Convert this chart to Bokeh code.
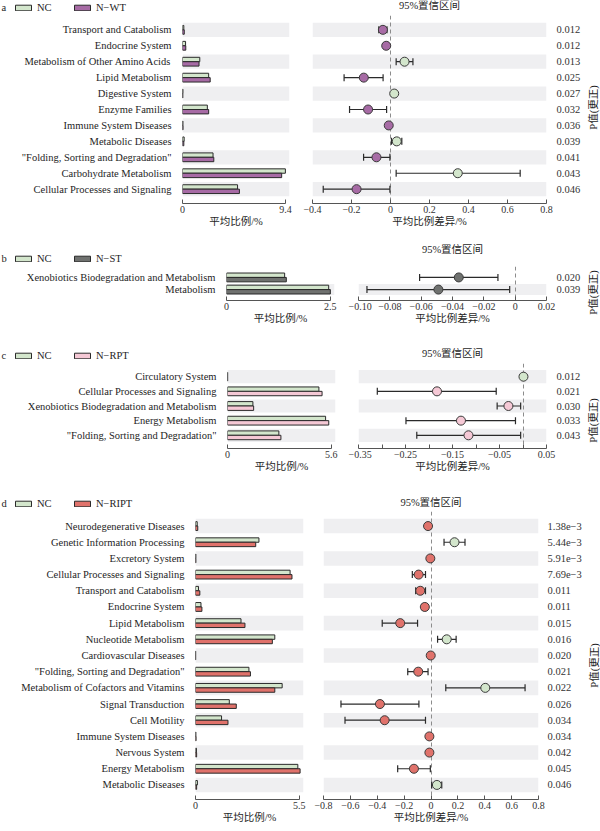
import numpy as np
from bokeh.plotting import figure
from bokeh.models import (ColumnDataSource, Range1d, FixedTicker, Legend, LegendItem, Label)
from bokeh.transform import dodge
from bokeh.layouts import row, column
from bokeh.embed import file_html
from bokeh.resources import INLINE
from bokeh.core.properties import value

# ---------------- data ----------------
# panel a : NC vs N-WT
cats_a = ["Transport and Catabolism", "Endocrine System", "Metabolism of Other Amino Acids",
          "Lipid Metabolism", "Digestive System", "Enzyme Families", "Immune System Diseases",
          "Metabolic Diseases", "\"Folding, Sorting and Degradation\"", "Carbohydrate Metabolism",
          "Cellular Processes and Signaling"]
nc_a = [0.12, 0.28, 1.58, 2.39, 0.04, 2.27, 0.04, 0.15, 2.79, 9.40, 5.03]
grp_a = [0.16, 0.30, 1.51, 2.53, 0.03, 2.39, 0.05, 0.12, 2.86, 9.06, 5.20]
diff_a = [-0.039, -0.022, 0.072, -0.137, 0.019, -0.115, -0.009, 0.032, -0.072, 0.345, -0.174]
lo_a = [-0.060, -0.032, 0.029, -0.238, 0.012, -0.210, -0.016, 0.005, -0.138, 0.029, -0.345]
hi_a = [-0.018, -0.012, 0.115, -0.038, 0.026, -0.020, -0.003, 0.058, -0.003, 0.665, -0.003]
p_a = ["0.012", "0.012", "0.013", "0.025", "0.027", "0.032", "0.036", "0.039", "0.041", "0.043", "0.046"]
bar_tick_a = 9.4
ci_ticks_a = [-0.4, -0.2, 0, 0.2, 0.4, 0.6, 0.8]
ci_labels_a = ["\u22120.4", "\u22120.2", "0", "0.2", "0.4", "0.6", "0.8"]

# panel b : NC vs N-ST
cats_b = ["Xenobiotics Biodegradation and Metabolism", "Metabolism"]
nc_b = [1.40, 2.46]
grp_b = [1.44, 2.50]
diff_b = [-0.036, -0.049]
lo_b = [-0.061, -0.0946]
hi_b = [-0.011, -0.0035]
p_b = ["0.020", "0.039"]
bar_tick_b = 2.5
ci_ticks_b = [-0.10, -0.08, -0.06, -0.04, -0.02, 0, 0.02]
ci_labels_b = ["\u22120.10", "\u22120.08", "\u22120.06", "\u22120.04", "\u22120.02", "0", "0.02"]

# panel c : NC vs N-RPT
cats_c = ["Circulatory System", "Cellular Processes and Signaling",
          "Xenobiotics Biodegradation and Metabolism", "Energy Metabolism",
          "\"Folding, Sorting and Degradation\""]
nc_c = [0.01, 4.93, 1.37, 5.29, 2.77]
grp_c = [0.01, 5.10, 1.41, 5.46, 2.88]
diff_c = [0.001, -0.183, -0.031, -0.132, -0.116]
lo_c = [-0.002, -0.310, -0.055, -0.249, -0.226]
hi_c = [0.004, -0.057, -0.005, -0.016, -0.005]
p_c = ["0.012", "0.021", "0.030", "0.033", "0.043"]
bar_tick_c = 5.6
ci_ticks_c = [-0.35, -0.30, -0.25, -0.20, -0.15, -0.10, -0.05, 0, 0.05]
ci_labels_c = ["\u22120.35", "", "\u22120.25", "", "\u22120.15", "", "\u22120.05", "", "0.05"]

# panel d : NC vs N-RIPT
cats_d = ["Neurodegenerative Diseases", "Genetic Information Processing", "Excretory System",
          "Cellular Processes and Signaling", "Transport and Catabolism", "Endocrine System",
          "Lipid Metabolism", "Nucleotide Metabolism", "Cardiovascular Diseases",
          "\"Folding, Sorting and Degradation\"", "Metabolism of Cofactors and Vitamins",
          "Signal Transduction", "Cell Motility", "Immune System Diseases", "Nervous System",
          "Energy Metabolism", "Metabolic Diseases"]
nc_d = [0.09, 3.36, 0.02, 5.01, 0.16, 0.29, 2.41, 4.20, 0.01, 2.83, 4.59, 1.79, 1.38, 0.02, 0.05, 5.42, 0.10]
grp_d = [0.12, 3.19, 0.02, 5.11, 0.23, 0.34, 2.62, 4.07, 0.01, 2.91, 4.20, 2.16, 1.72, 0.03, 0.06, 5.54, 0.06]
diff_d = [-0.022, 0.175, -0.005, -0.092, -0.080, -0.046, -0.229, 0.117, -0.002, -0.095, 0.404,
          -0.380, -0.345, -0.012, -0.012, -0.127, 0.044]
lo_d = [-0.032, 0.097, -0.012, -0.139, -0.114, -0.066, -0.363, 0.049, -0.006, -0.173, 0.110,
        -0.670, -0.640, -0.020, -0.020, -0.248, 0.005]
hi_d = [-0.012, 0.253, 0.002, -0.041, -0.041, -0.027, -0.100, 0.187, 0.002, -0.022, 0.700,
        -0.090, -0.041, -0.004, -0.004, -0.005, 0.080]
p_d = ["1.38e\u22123", "5.44e\u22123", "5.91e\u22123", "7.69e\u22123", "0.011", "0.011", "0.015",
       "0.016", "0.020", "0.021", "0.022", "0.026", "0.034", "0.034", "0.042", "0.045", "0.046"]
bar_tick_d = 5.5
ci_ticks_d = [-0.8, -0.6, -0.4, -0.2, 0, 0.2, 0.4, 0.6, 0.8]
ci_labels_d = ["\u22120.8", "\u22120.6", "\u22120.4", "\u22120.2", "0", "0.2", "0.4", "0.6", "0.8"]

# ---------------- style ----------------
SERIF = "Liberation Serif"
MIXED = "Liberation Serif, Noto Sans CJK SC"
NC_C = "#d3e6cc"
EDGE = "#2a2a2a"
BAND = "#efeff1"
TXT = "#1e1e1e"
AX = "#555555"


def base_fig(**kw):
    return figure(toolbar_location=None, output_backend="svg", outline_line_color=None,
                  title=None, **kw)


def style_x_axis(ax, label):
    ax.axis_label = label
    ax.axis_label_text_font = MIXED
    ax.axis_label_text_font_size = "10.5px"
    ax.axis_label_text_font_style = "normal"
    ax.axis_label_text_color = TXT
    ax.axis_label_standoff = 0
    ax.major_label_text_font = SERIF
    ax.major_label_text_font_size = "10px"
    ax.major_label_text_color = "#333333"
    ax.major_label_standoff = 2
    ax.axis_line_color = AX
    ax.major_tick_line_color = AX
    ax.major_tick_in = 4
    ax.major_tick_out = 0
    ax.minor_tick_line_color = None


def style_y_axis(ax, labels, size, standoff):
    ax.major_label_overrides = labels
    ax.axis_line_color = None
    ax.major_tick_line_color = None
    ax.minor_tick_line_color = None
    ax.major_label_standoff = standoff
    ax.major_label_text_font = SERIF
    ax.major_label_text_font_size = size
    ax.major_label_text_color = TXT


def panel(letter, group, gcolor, cats, nc, grp, diff, lo, hi, pv, bar_tick,
          ci_ticks, ci_labels, g):
    n = len(cats)
    pos = list(range(n - 1, -1, -1))          # first category on top
    rowpx = g["fh"] / (n + 0.8)
    bh = 4.4 / rowpx
    cap = 3.5 / rowpx
    band_pos = [p for p in pos if p % 2 == 0]
    cols = [NC_C if d > 0 else gcolor for d in diff]
    src = ColumnDataSource(dict(pos=pos, nc=nc, grp=grp, diff=diff, lo=lo, hi=hi, col=cols))
    W1 = g["bl"] + g["bw"] + g["br"]
    W2 = g["cl"] + g["cw"] + g["cr"]

    # ---- bar chart ----
    xmax = bar_tick * 1.04
    pb = base_fig(y_range=Range1d(-0.9, n - 0.1), x_range=Range1d(0, xmax),
                  frame_width=g["bw"], frame_height=g["fh"],
                  min_border_left=g["bl"], min_border_right=g["br"],
                  min_border_top=0, min_border_bottom=g["bot"])
    pb.grid.visible = False
    pb.hbar(y=band_pos, left=0, right=xmax, height=0.9, fill_color=BAND, line_color=None)
    pb.hbar(y=dodge("pos", bh / 2), left=0, right="nc", height=bh,
            source=src, fill_color=NC_C, line_color=EDGE, line_width=1)
    pb.hbar(y=dodge("pos", -bh / 2), left=0, right="grp", height=bh,
            source=src, fill_color=gcolor, line_color=EDGE, line_width=1)
    pb.yaxis[0].ticker = FixedTicker(ticks=pos)
    style_y_axis(pb.yaxis[0], dict(zip(pos, cats)), "10.5px", 5)
    xa = pb.xaxis[0]
    xa.ticker = FixedTicker(ticks=[0, bar_tick])
    xa.bounds = (0, bar_tick)
    style_x_axis(xa, "平均比例/%")

    # ---- confidence interval chart ----
    c0, c1 = ci_ticks[0], ci_ticks[-1]
    pc = base_fig(y_range=Range1d(-0.9, n - 0.1), x_range=Range1d(c0, c1),
                  frame_width=g["cw"], frame_height=g["fh"],
                  min_border_left=g["cl"], min_border_right=g["cr"],
                  min_border_top=0, min_border_bottom=g["bot"],
                  y_axis_location="right")
    pc.grid.visible = False
    pc.hbar(y=band_pos, left=c0, right=c1, height=0.9, fill_color=BAND, line_color=None)
    pc.vspan(x=[0], line_color="#8c8c8c", line_dash="4 3", line_width=1)
    pc.segment(x0="lo", x1="hi", y0="pos", y1="pos", source=src, line_color=EDGE, line_width=1.2)
    pc.segment(x0="lo", x1="lo", y0=dodge("pos", -cap), y1=dodge("pos", cap),
               source=src, line_color=EDGE, line_width=1.2)
    pc.segment(x0="hi", x1="hi", y0=dodge("pos", -cap), y1=dodge("pos", cap),
               source=src, line_color=EDGE, line_width=1.2)
    pc.scatter(x="diff", y="pos", size=9, source=src, fill_color="col", line_color="#3a3a3a",
               line_width=1)
    pc.yaxis[0].ticker = FixedTicker(ticks=pos)
    style_y_axis(pc.yaxis[0], dict(zip(pos, pv)), "10.5px", g["ps"])
    pc.yaxis[0].major_label_text_color = "#333333"
    ca = pc.xaxis[0]
    ca.ticker = FixedTicker(ticks=ci_ticks)
    ca.major_label_overrides = dict(zip(ci_ticks, ci_labels))
    style_x_axis(ca, "平均比例差异/%")

    # ---- header: letter, legend, CI title ----
    hd = base_fig(frame_width=W1 + W2, frame_height=g["top"], min_border=0,
                  x_range=Range1d(0, 1), y_range=Range1d(0, 1),
                  x_axis_type=None, y_axis_type=None)
    hd.grid.visible = False
    # legend key renderers (kept outside the visible header area)
    d1 = hd.hbar(y=[-5], left=[0], right=[1], height=0.1, fill_color=NC_C,
                 line_color=EDGE, line_width=1)
    d2 = hd.hbar(y=[-5], left=[0], right=[1], height=0.1, fill_color=gcolor,
                 line_color=EDGE, line_width=1)
    leg = Legend(items=[LegendItem(label=value("NC"), renderers=[d1]),
                        LegendItem(label=value(group), renderers=[d2])],
                 orientation="horizontal", location=(13, 2),
                 glyph_width=20, glyph_height=7, label_standoff=4, spacing=15,
                 padding=0, margin=0, border_line_color=None, background_fill_alpha=0,
                 label_text_font=SERIF, label_text_font_size="10.5px",
                 label_text_color=TXT, label_height=10, label_width=20)
    hd.add_layout(leg)
    hd.add_layout(Label(x=1, y=8, x_units="screen", y_units="screen",
                        text=letter, text_baseline="middle", text_font=SERIF,
                        text_font_size="10.5px", text_color=TXT))
    hd.add_layout(Label(x=W1 + g["cl"] + g["cw"] / 2, y=g["tdy"], x_units="screen",
                        y_units="screen", text="95%置信区间", text_align="center",
                        text_baseline="middle", text_font=MIXED, text_font_size="10.5px",
                        text_color=TXT))

    # ---- right strip: P value title ----
    H = g["top"] + g["fh"] + g["bot"]
    pl = base_fig(frame_width=g["sw"], frame_height=H, min_border=0,
                  x_range=Range1d(0, 1), y_range=Range1d(0, 1),
                  x_axis_type=None, y_axis_type=None)
    pl.grid.visible = False
    pl.add_layout(Label(x=g["sw"] / 2, y=g["bot"] + g["pvy"], x_units="screen",
                        y_units="screen", angle=np.pi / 2, text="P值(更正)",
                        text_align="center", text_baseline="middle", text_font=MIXED,
                        text_font_size="10.5px", text_color=TXT))
    return row(column(hd, row(pb, pc)), pl)


geo_a = dict(top=15, fh=188, bot=33, bl=182, bw=107, br=11, cl=12, cw=234, cr=34, sw=20,
             ps=4, tdy=10, pvy=96)
geo_b = dict(top=30, fh=34, bot=30, bl=226, bw=108, br=14, cl=10, cw=188, cr=34, sw=20,
             ps=4, tdy=17, pvy=8)
geo_c = dict(top=33, fh=85, bot=30, bl=227, bw=108, br=13, cl=10, cw=188, cr=34, sw=20,
             ps=4, tdy=10, pvy=28)
geo_d = dict(top=33, fh=288, bot=30, bl=195, bw=108, br=10, cl=10, cw=215, cr=42, sw=20,
             ps=3, tdy=9, pvy=134)

pa = panel("a", "N\u2212WT", "#a76ba5", cats_a, nc_a, grp_a, diff_a, lo_a, hi_a, p_a,
           bar_tick_a, ci_ticks_a, ci_labels_a, geo_a)
pbp = panel("b", "N\u2212ST", "#6f716f", cats_b, nc_b, grp_b, diff_b, lo_b, hi_b, p_b,
            bar_tick_b, ci_ticks_b, ci_labels_b, geo_b)
pcp = panel("c", "N\u2212RPT", "#f5c8d5", cats_c, nc_c, grp_c, diff_c, lo_c, hi_c, p_c,
            bar_tick_c, ci_ticks_c, ci_labels_c, geo_c)
pdp = panel("d", "N\u2212RIPT", "#e0726b", cats_d, nc_d, grp_d, diff_d, lo_d, hi_d, p_d,
            bar_tick_d, ci_ticks_d, ci_labels_d, geo_d)

layout = column(pa, pbp, pcp, pdp)
open("out.html", "w").write(file_html(layout, INLINE))
